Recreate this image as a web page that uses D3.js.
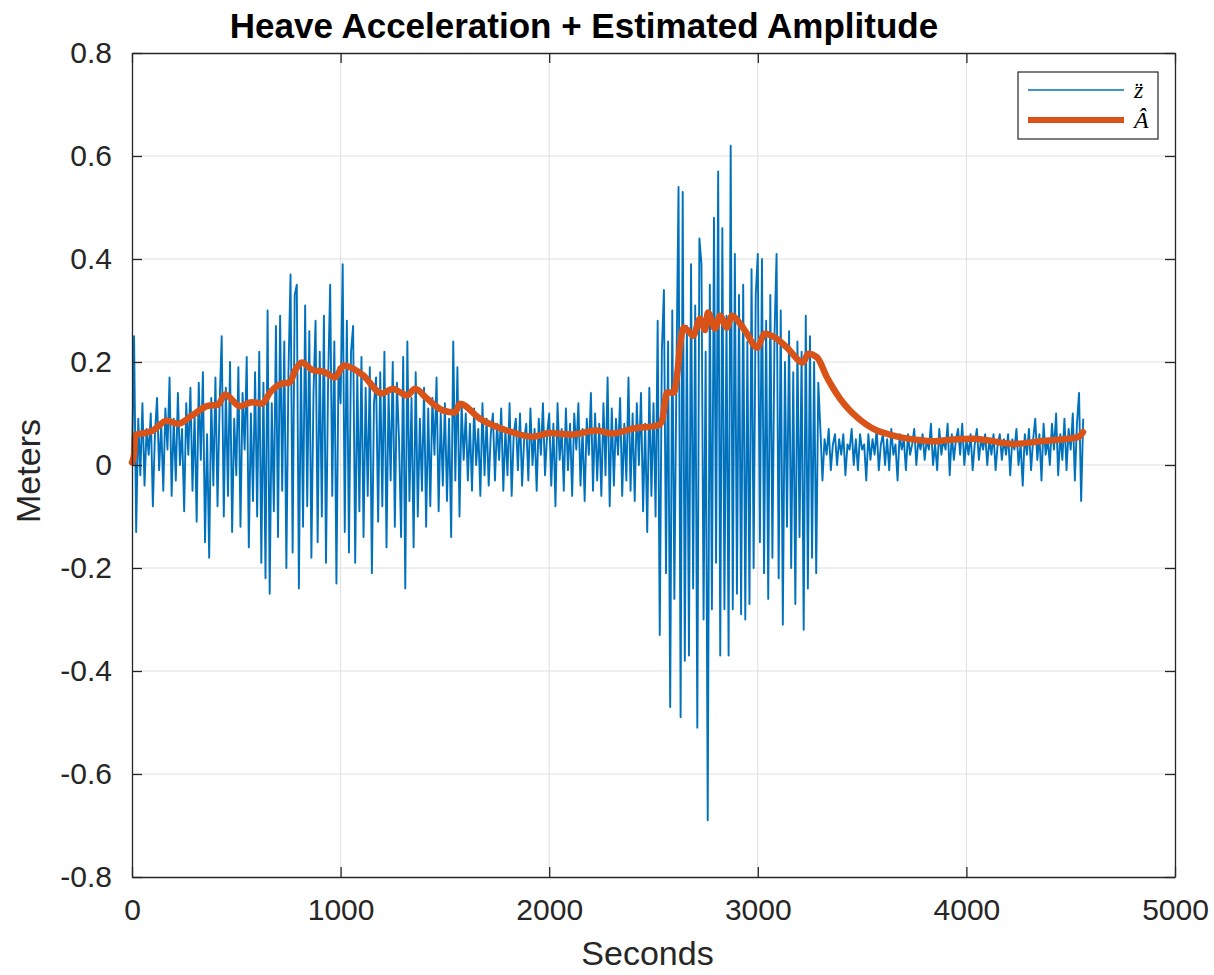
<!DOCTYPE html>
<html>
<head>
<meta charset="utf-8">
<script src="https://cdn.jsdelivr.net/npm/d3@7"></script>
<style>
  html, body { margin: 0; padding: 0; background: #fff; }
  svg { display: block; }
  text { font-family: "Liberation Sans", Arial, Helvetica, sans-serif; fill: #262626; }
</style>
</head>
<body>
<svg id="chart" width="1214" height="975"></svg>
<script>
// heave acceleration samples, one every 10 s from t = 0
const heaveStep = 10
const heaveValues = [
  0.00, 0.25, -0.13, 0.09, -0.02, 0.12, -0.04, 0.07, 0.02, 0.10,
  -0.08, 0.06, 0.13, -0.01, 0.08, -0.05, 0.11, 0.03, 0.17, -0.06,
  0.09, -0.03, 0.14, 0.00, 0.07, -0.09, 0.12, 0.02, 0.15, -0.05,
  0.10, -0.11, 0.16, 0.01, 0.18, -0.15, 0.06, -0.18, 0.13, -0.04,
  0.17, -0.08, 0.12, 0.25, -0.10, 0.15, -0.06, 0.20, -0.13, 0.09,
  -0.02, 0.19, -0.12, 0.14, 0.03, 0.21, -0.16, 0.10, -0.07, 0.18,
  -0.10, 0.22, -0.19, 0.16, -0.22, 0.30, -0.25, 0.12, -0.09, 0.27,
  -0.14, 0.29, -0.05, 0.24, -0.20, 0.18, 0.37, -0.17, 0.33, 0.35,
  -0.24, 0.20, -0.12, 0.31, -0.08, 0.26, -0.18, 0.14, 0.28, -0.15,
  0.22, -0.10, 0.29, -0.19, 0.16, 0.35, -0.06, 0.24, -0.23, 0.19,
  0.12, 0.39, -0.13, 0.28, -0.17, 0.22, 0.27, -0.19, 0.18, -0.09,
  0.21, -0.14, 0.15, -0.06, 0.19, -0.21, 0.12, 0.17, -0.11, 0.18,
  -0.08, 0.22, -0.16, 0.14, -0.03, 0.20, -0.12, 0.16, 0.05, -0.14,
  0.21, -0.24, 0.24, -0.07, 0.13, -0.16, 0.18, -0.10, 0.09, -0.05,
  0.15, -0.12, 0.11, -0.08, 0.13, 0.02, 0.17, -0.09, 0.10, -0.04,
  0.12, -0.07, 0.09, -0.14, 0.24, -0.03, 0.19, -0.10, 0.12, 0.01,
  0.10, -0.03, 0.08, -0.05, 0.11, 0.00, 0.07, -0.06, 0.12, -0.02,
  0.09, -0.04, 0.06, 0.10, -0.03, 0.08, 0.01, 0.11, -0.05, 0.07,
  -0.02, 0.12, -0.06, 0.06, 0.09, -0.01, 0.10, -0.04, 0.05, 0.08,
  -0.03, 0.11, 0.00, 0.07, -0.05, 0.09, 0.02, 0.12, -0.02, 0.06,
  0.10, -0.04, 0.08, -0.08, 0.12, 0.01, 0.07, -0.05, 0.11, -0.01,
  0.08, -0.06, 0.10, 0.03, 0.12, -0.04, 0.07, -0.07, 0.09, 0.02,
  0.14, -0.05, 0.10, -0.03, 0.08, -0.06, 0.12, -0.02, 0.17, -0.08,
  0.11, -0.04, 0.09, 0.02, 0.13, -0.06, 0.08, -0.03, 0.17, -0.05,
  0.10, -0.07, 0.12, 0.00, 0.14, -0.09, 0.08, -0.13, 0.15, -0.06,
  0.12, -0.10, 0.28, -0.33, 0.22, 0.34, -0.21, 0.24, -0.47, 0.30,
  -0.26, 0.18, 0.54, -0.49, 0.53, -0.38, 0.27, -0.37, 0.39, -0.24,
  0.31, -0.51, 0.44, 0.39, -0.30, 0.22, -0.69, 0.35, -0.28, 0.48,
  -0.19, 0.57, -0.37, 0.46, -0.28, 0.29, -0.37, 0.62, -0.28, 0.41,
  -0.25, 0.33, -0.29, 0.35, -0.30, 0.24, -0.27, 0.38, -0.20, 0.33,
  0.41, -0.15, 0.40, -0.21, 0.28, -0.26, 0.33, -0.18, 0.25, 0.41,
  -0.22, 0.30, -0.31, 0.20, -0.12, 0.26, -0.20, 0.18, -0.27, 0.24,
  -0.14, 0.22, -0.32, 0.29, -0.24, 0.25, -0.18, 0.20, -0.21, 0.16,
  0.07, -0.03, 0.05, 0.02, 0.07, -0.01, 0.04, 0.06, 0.00, 0.05,
  0.02, 0.06, -0.02, 0.04, 0.03, 0.07, 0.00, 0.05, -0.01, 0.06,
  0.03, 0.04, -0.03, 0.06, 0.01, 0.05, 0.02, 0.07, -0.01, 0.04,
  0.06, 0.00, 0.05, -0.01, 0.07, 0.02, 0.04, -0.03, 0.06, 0.03,
  0.05, -0.01, 0.06, 0.02, 0.04, 0.07, 0.00, 0.05, 0.03, 0.06,
  0.01, 0.05, 0.03, 0.08, 0.00, 0.04, -0.01, 0.07, 0.02, 0.05,
  0.03, 0.08, -0.02, 0.06, 0.01, 0.05, 0.07, 0.02, 0.08, 0.00,
  0.05, 0.02, 0.06, -0.01, 0.04, 0.07, 0.01, 0.05, 0.03, 0.06,
  0.00, 0.05, 0.02, 0.06, -0.01, 0.04, 0.06, 0.01, 0.05, 0.02,
  0.06, -0.02, 0.05, 0.03, 0.07, 0.00, 0.04, -0.04, 0.06, 0.02,
  0.07, -0.01, 0.05, 0.09, 0.01, 0.06, -0.03, 0.08, 0.02, 0.05,
  0.00, 0.08, 0.03, 0.10, -0.02, 0.06, 0.01, 0.09, -0.01, 0.07,
  0.03, 0.10, -0.03, 0.08, 0.14, -0.07, 0.09
]

// estimated amplitude, read at its corners
const ampTimes = [
  0, 10, 15, 60, 100, 166, 221, 287, 366, 412, 446, 518, 575, 623, 662, 719, 757, 781, 815, 863,
  925, 973, 1015, 1060, 1108, 1198, 1252, 1290, 1318, 1357, 1414, 1491, 1548, 1572, 1668, 1797, 1922, 2004, 2100, 2229,
  2301, 2402, 2522, 2541, 2565, 2598, 2613, 2630, 2645, 2665, 2690, 2723, 2747, 2761, 2795, 2819, 2852, 2876, 2914, 2948,
  2996, 3034, 3092, 3140, 3217, 3241, 3284, 3332, 3360, 3394, 3432, 3475, 3519, 3571, 3624, 3682, 3760, 3840, 3921, 4032,
  4099, 4223, 4353, 4482, 4535, 4559
]
const ampValues = [
  0.005, 0.02, 0.058, 0.062, 0.067, 0.086, 0.080, 0.096, 0.115, 0.117, 0.137, 0.114, 0.122, 0.119, 0.141, 0.158, 0.160, 0.183, 0.199, 0.185,
  0.180, 0.170, 0.193, 0.187, 0.174, 0.139, 0.148, 0.140, 0.135, 0.148, 0.129, 0.106, 0.102, 0.119, 0.090, 0.067, 0.055, 0.062, 0.059, 0.067,
  0.061, 0.071, 0.077, 0.086, 0.141, 0.141, 0.174, 0.241, 0.267, 0.261, 0.251, 0.284, 0.262, 0.296, 0.265, 0.290, 0.267, 0.290, 0.275, 0.255,
  0.228, 0.255, 0.245, 0.228, 0.199, 0.216, 0.209, 0.170, 0.150, 0.129, 0.110, 0.093, 0.079, 0.067, 0.060, 0.054, 0.049, 0.046, 0.049, 0.051,
  0.048, 0.041, 0.046, 0.051, 0.054, 0.064
]

const xTicks = [0, 1000, 2000, 3000, 4000, 5000]
const yTicks = [-0.8, -0.6, -0.4, -0.2, 0, 0.2, 0.4, 0.6, 0.8]

const titleText = 'Heave Acceleration + Estimated Amplitude'
const xLabel = 'Seconds'
const yLabel = 'Meters'

const blue = '#0072BD'
const orange = '#D95319'
const axisColor = '#262626'
const gridColor = '#dfdfdf'

const plot = { left: 132, top: 53, right: 1175, bottom: 877 }
const tickLen = 10

const svg = d3.select('#chart')

const x = d3.scaleLinear().domain([0, 5000]).range([plot.left, plot.right])
const y = d3.scaleLinear().domain([-0.8, 0.8]).range([plot.bottom, plot.top])

// grid
const grid = svg.append('g')
grid.selectAll('line.gx')
  .data(xTicks.slice(1, -1))
  .enter().append('line')
  .attr('x1', d => x(d)).attr('x2', d => x(d))
  .attr('y1', plot.top).attr('y2', plot.bottom)
  .attr('stroke', gridColor).attr('stroke-width', 1)
grid.selectAll('line.gy')
  .data(yTicks.slice(1, -1))
  .enter().append('line')
  .attr('x1', plot.left).attr('x2', plot.right)
  .attr('y1', d => y(d)).attr('y2', d => y(d))
  .attr('stroke', gridColor).attr('stroke-width', 1)

// the two series
const heave = heaveValues.map((v, i) => ({ t: i * heaveStep, v }))
const amp = ampTimes.map((t, i) => ({ t, v: ampValues[i] }))

const line = d3.line().x(d => x(d.t)).y(d => y(d.v))

svg.append('path')
  .datum(heave)
  .attr('d', line)
  .attr('fill', 'none')
  .attr('stroke', blue)
  .attr('stroke-width', 1.9)
  .attr('stroke-linejoin', 'round')

svg.append('path')
  .datum(amp)
  .attr('d', line.curve(d3.curveMonotoneX))
  .attr('fill', 'none')
  .attr('stroke', orange)
  .attr('stroke-width', 6.5)
  .attr('stroke-linejoin', 'round')
  .attr('stroke-linecap', 'round')

// axes with inward ticks on all four sides
const fmtY = d => d === 0 ? '0' : d3.format('.1f')(d).replace('\u2212', '-')

const axBottom = d3.axisBottom(x).tickValues(xTicks).tickSizeInner(-tickLen).tickSizeOuter(0).tickPadding(22).tickFormat(d3.format('d'))
const axTop = d3.axisTop(x).tickValues(xTicks).tickSizeInner(-tickLen).tickSizeOuter(0).tickFormat('')
const axLeft = d3.axisLeft(y).tickValues(yTicks).tickSizeInner(-tickLen).tickSizeOuter(0).tickPadding(20).tickFormat(fmtY)
const axRight = d3.axisRight(y).tickValues(yTicks).tickSizeInner(-tickLen).tickSizeOuter(0).tickFormat('')

function styleAxis(g) {
  g.select('.domain').attr('stroke', axisColor).attr('stroke-width', 1.3)
  g.selectAll('.tick line').attr('stroke', axisColor).attr('stroke-width', 1.3)
  g.selectAll('.tick text')
    .attr('fill', axisColor)
    .style('font-family', '"Liberation Sans", Arial, Helvetica, sans-serif')
    .style('font-size', '30px')
}

svg.append('g').attr('transform', `translate(0,${plot.bottom})`).call(axBottom).call(styleAxis)
svg.append('g').attr('transform', `translate(0,${plot.top})`).call(axTop).call(styleAxis)
svg.append('g').attr('transform', `translate(${plot.left},0)`).call(axLeft).call(styleAxis)
svg.append('g').attr('transform', `translate(${plot.right},0)`).call(axRight).call(styleAxis)

// titles
svg.append('text')
  .attr('x', 584).attr('y', 38)
  .attr('text-anchor', 'middle')
  .style('font-size', '35px').style('font-weight', 'bold')
  .style('fill', '#000')
  .text(titleText)

svg.append('text')
  .attr('x', (plot.left + plot.right) / 2 - 6).attr('y', 965)
  .attr('text-anchor', 'middle')
  .style('font-size', '34px')
  .text(xLabel)

svg.append('text')
  .attr('transform', `translate(40,${(plot.top + plot.bottom) / 2 + 6}) rotate(-90)`)
  .attr('text-anchor', 'middle')
  .style('font-size', '34px')
  .text(yLabel)

// legend
const legend = svg.append('g').attr('transform', 'translate(1018,72)')
legend.append('rect')
  .attr('width', 140).attr('height', 67)
  .attr('fill', '#fff').attr('stroke', axisColor).attr('stroke-width', 1.2)

const legendItems = [
  { label: 'z\u0308', color: blue, width: 1.5, y: 18, size: 24 },
  { label: '\u00C2', color: orange, width: 6, y: 48, size: 24 }
]
legendItems.forEach(item => {
  legend.append('line')
    .attr('x1', 10).attr('x2', 106)
    .attr('y1', item.y).attr('y2', item.y)
    .attr('stroke', item.color).attr('stroke-width', item.width)
  legend.append('text')
    .attr('x', 116).attr('y', item.y + 8)
    .style('font-family', '"Liberation Serif", "DejaVu Serif", serif')
    .style('font-style', 'italic')
    .style('font-size', item.size + 'px')
    .style('fill', '#000')
    .text(item.label)
})
</script>
</body>
</html>
